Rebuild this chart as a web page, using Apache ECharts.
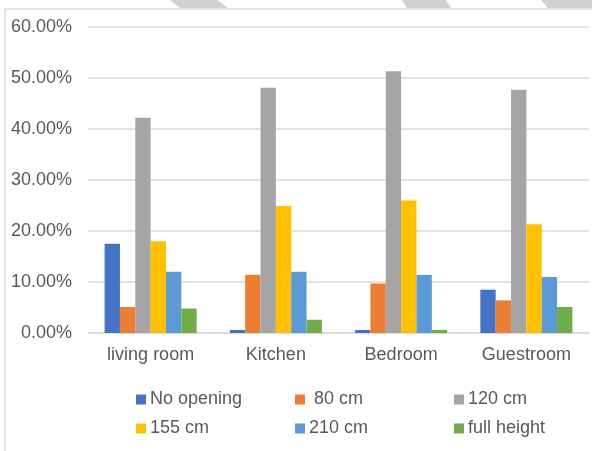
<!DOCTYPE html>
<html>
<head>
<meta charset="utf-8">
<script src="https://cdn.jsdelivr.net/npm/echarts@6/dist/echarts.min.js"></script>
<style>
html,body{margin:0;padding:0;background:#fff;}
#chart{width:592px;height:451px;}
</style>
</head>
<body>
<div id="chart"></div>
<script>
var categories = ['living room', 'Kitchen', 'Bedroom', 'Guestroom'];
var seriesNames = ['No opening', ' 80 cm', '120 cm', '155 cm', '210 cm', 'full height'];
var noOpening = [0.175, 0.006, 0.006, 0.085];
var cm80 = [0.051, 0.114, 0.097, 0.064];
var cm120 = [0.422, 0.481, 0.513, 0.477];
var cm155 = [0.180, 0.249, 0.260, 0.213];
var cm210 = [0.120, 0.120, 0.114, 0.110];
var fullHeight = [0.048, 0.026, 0.006, 0.051];
var yTicks = [0, 0.1, 0.2, 0.3, 0.4, 0.5, 0.6];

var colors = ['#4472C4', '#ED7D31', '#A5A5A5', '#FFC000', '#5B9BD5', '#70AD47'];
var values = [noOpening, cm80, cm120, cm155, cm210, fullHeight];

var chart = echarts.init(document.getElementById('chart'), null, {renderer: 'canvas'});
var font = 'Liberation Sans, Arial, sans-serif';
var txt = '#595959';

var series = seriesNames.map(function (n, i) {
  return {
    name: n,
    type: 'bar',
    data: values[i],
    barGap: '0%',
    barCategoryGap: '26.5%',
    itemStyle: {color: colors[i]},
    emphasis: {disabled: true}
  };
});

chart.setOption({
  animation: false,
  color: colors,
  graphic: [
    {type: 'polyline', shape: {points: [[5, 451], [5, 9], [592, 9]]}, style: {stroke: '#d9d9d9', lineWidth: 1.5, fill: null}},
    {type: 'polygon', shape: {points: [[170, 0], [217, 0], [228, 8], [180, 8]]}, style: {fill: '#d0d0d0'}},
    {type: 'polygon', shape: {points: [[402, 0], [446, 0], [451, 8], [407, 8]]}, style: {fill: '#d0d0d0'}},
    {type: 'polygon', shape: {points: [[541, 0], [592, 0], [592, 8], [548, 8]]}, style: {fill: '#d0d0d0'}}
  ],
  grid: {left: 88, right: 3, top: 27, bottom: 118, containLabel: false},
  xAxis: {
    type: 'category',
    data: categories,
    axisLine: {lineStyle: {color: '#d9d9d9', width: 1.5}},
    axisTick: {show: false},
    axisLabel: {color: txt, fontSize: 18, fontFamily: font, margin: 13}
  },
  yAxis: {
    type: 'value',
    min: yTicks[0],
    max: yTicks[yTicks.length - 1],
    interval: 0.1,
    axisLine: {show: false},
    axisTick: {show: false},
    splitLine: {lineStyle: {color: '#d9d9d9', width: 1.5}},
    axisLabel: {
      color: txt, fontSize: 18, fontFamily: font, margin: 16,
      formatter: function (v) { return (v * 100).toFixed(2) + '%'; }
    }
  },
  legend: {
    data: seriesNames,
    left: 131,
    top: 380,
    width: 480,
    orient: 'horizontal',
    itemWidth: 10,
    itemHeight: 10,
    itemGap: 0,
    icon: 'rect',
    textStyle: {color: txt, fontSize: 18, fontFamily: font, width: 145, lineHeight: 29, padding: [0, 0, 0, -1]},
    selectedMode: false
  },
  series: series
});
</script>
</body>
</html>
